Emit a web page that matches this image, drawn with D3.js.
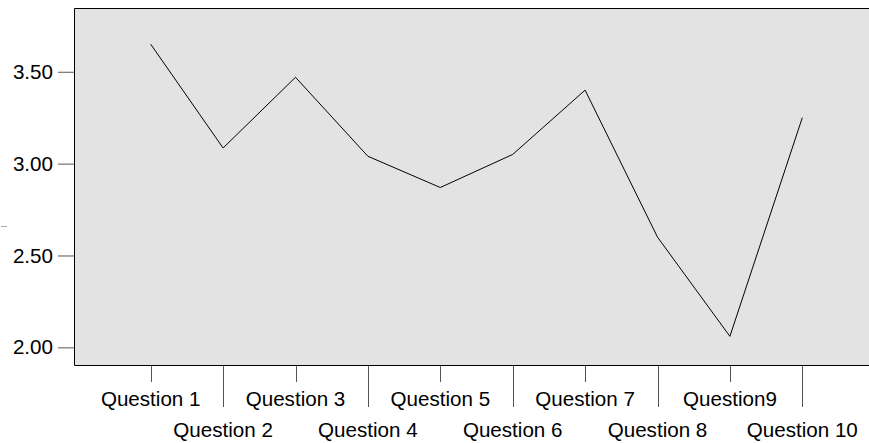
<!DOCTYPE html>
<html>
<head>
<meta charset="utf-8">
<script src="https://cdn.jsdelivr.net/npm/d3@7"></script>
<style>
  html, body { margin: 0; padding: 0; background: #ffffff; }
  svg { display: block; font-family: "Liberation Sans", Arial, sans-serif; }
</style>
</head>
<body>
<svg id="chart" width="869" height="443"></svg>
<script>
const categories = ["Question 1", "Question 2", "Question 3", "Question 4", "Question 5",
                    "Question 6", "Question 7", "Question 8", "Question9", "Question 10"];
const values = [3.65, 3.085, 3.47, 3.04, 2.87, 3.05, 3.40, 2.60, 2.06, 3.25];
const yTicks = [2.00, 2.50, 3.00, 3.50];

const W = 869, H = 443;
const plot = { left: 74, top: 8, right: 880, bottom: 365 };
const FS = 20.6;

const svg = d3.select("#chart");

const x = d3.scalePoint().domain(categories).range([150.7, 802.3]);
const y = d3.scaleLinear().domain([1.904, 3.847]).range([plot.bottom, plot.top]);

// plot background
svg.append("rect")
  .attr("x", plot.left).attr("y", plot.top)
  .attr("width", plot.right - plot.left).attr("height", plot.bottom - plot.top)
  .attr("fill", "#e3e3e3");

// frame: top, left, bottom
svg.append("path")
  .attr("d", `M${plot.right},${plot.top + 0.5}H${plot.left + 0.5}V${plot.bottom + 0.5}H${plot.right}`)
  .attr("fill", "none").attr("stroke", "#000").attr("stroke-width", 1);

// y axis
const yAxis = d3.axisLeft(y).tickValues(yTicks).tickFormat(d3.format(".2f"))
  .tickSize(16).tickPadding(5);
const gy = svg.append("g").attr("transform", `translate(${plot.left},0)`).call(yAxis);
gy.select(".domain").remove();
gy.selectAll(".tick line").attr("stroke", "#555");
gy.selectAll(".tick text").attr("font-size", FS).attr("fill", "#000")
  .attr("font-family", "'Liberation Sans', Arial, sans-serif");

// x axis: staggered ticks and labels
const gx = svg.append("g");
categories.forEach((c, i) => {
  const long = i % 2 === 1;
  gx.append("line")
    .attr("x1", Math.round(x(c)) + 0.5).attr("x2", Math.round(x(c)) + 0.5)
    .attr("y1", plot.bottom + 1).attr("y2", long ? 407 : 382)
    .attr("stroke", "#555").attr("stroke-width", 1);
  gx.append("text")
    .attr("x", x(c))
    .attr("y", long ? 436.5 : 405.5)
    .attr("text-anchor", "middle")
    .attr("font-size", FS)
    .attr("fill", "#000")
    .text(c);
});

// small axis-title remnant on the left
svg.append("line").attr("x1", 1).attr("x2", 7).attr("y1", 226.5).attr("y2", 226.5)
  .attr("stroke", "#aaa").attr("stroke-width", 1);

// data line
const line = d3.line().x((d, i) => x(categories[i])).y(d => y(d));
svg.append("path")
  .datum(values)
  .attr("d", line)
  .attr("fill", "none")
  .attr("stroke", "#000")
  .attr("stroke-width", 1);
</script>
</body>
</html>
